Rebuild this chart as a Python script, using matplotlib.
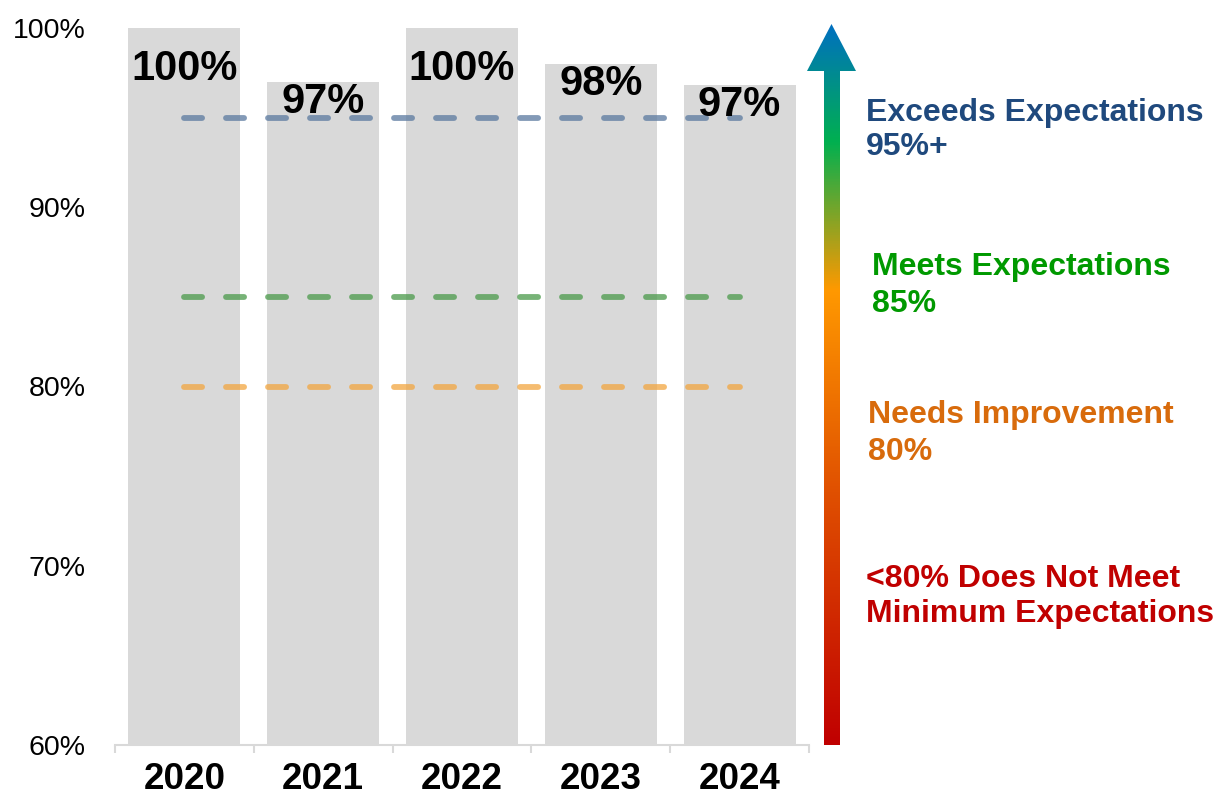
import numpy as np
import matplotlib
matplotlib.use("Agg")
import matplotlib.pyplot as plt
from matplotlib.colors import LinearSegmentedColormap
from matplotlib.patches import Polygon

# yearly scores (percent)
years = ["2020", "2021", "2022", "2023", "2024"]
scores = [100, 97, 100, 98, 96.8]

# target thresholds drawn as dashed lines
target_levels = [95, 85, 80]
target_colors = ["#5a799f", "#4a9a4a", "#f2a640"]

# rating bands shown next to the arrow
band_titles = ["Exceeds Expectations", "Meets Expectations",
               "Needs Improvement", "<80% Does Not Meet"]
band_subtitles = ["95%+", "85%", "80%", "Minimum Expectations"]
band_colors = ["#1f497d", "#009900", "#d86b0c", "#c00000"]

y_ticks = [60, 70, 80, 90, 100]

plt.rcParams["font.family"] = ["Liberation Sans", "DejaVu Sans"]

W, H = 1219, 796
fig = plt.figure(figsize=(W / 100, H / 100), dpi=100)
ax = fig.add_axes([115 / W, 51 / H, 694 / W, 717 / H])

x = np.arange(len(years))
ax.bar(x, scores, width=0.806, color="#d9d9d9", zorder=1)
ax.set_xlim(-0.5, len(years) - 0.5)
ax.set_ylim(60, 100)

for lvl, col in zip(target_levels, target_colors):
    ax.plot([x[0], x[-1]], [lvl, lvl], color=col, alpha=0.75, lw=4.2,
            dashes=(3.1, 4.1), dash_capstyle="round", zorder=2)

# value labels sit just inside the top of each bar
for xi, v in zip(x, scores):
    ax.text(xi, min(v, 98.85), f"{v:.0f}%", ha="center", va="top",
            fontsize=30, fontweight="bold", color="black", zorder=3)

ax.set_yticks(y_ticks, [f"{t}%" for t in y_ticks])
ax.tick_params(axis="y", length=0, labelsize=20.5, pad=21)

ax.set_xticks(x, years)
ax.tick_params(axis="x", which="major", length=0, pad=12)
for lab in ax.get_xticklabels():
    lab.set_fontweight("bold")
    lab.set_fontsize(26.5)
ax.set_xticks(np.arange(-0.5, len(years), 1), minor=True)
ax.tick_params(axis="x", which="minor", length=6, width=1.5,
               color="#d9d9d9", direction="out")

for side in ("left", "top", "right"):
    ax.spines[side].set_visible(False)
ax.spines["bottom"].set_color("#d9d9d9")
ax.spines["bottom"].set_linewidth(1.5)

# overlay in pixel units for the gradient arrow and band notes
ov = fig.add_axes([0, 0, 1, 1])
ov.set_xlim(0, W)
ov.set_ylim(H, 0)
ov.axis("off")

arrow = Polygon([(824, 745), (824, 71), (807, 71), (831.5, 24),
                 (856, 71), (840, 71), (840, 745)],
                closed=True, facecolor="none", edgecolor="none")
ov.add_patch(arrow)
cmap = LinearSegmentedColormap.from_list(
    "rating", [(0.0, "#c00000"), (0.35, "#e05000"), (0.632, "#ff9900"),
               (0.838, "#00b050"), (1.0, "#0070c0")])
grad = np.linspace(0, 1, 512).reshape(-1, 1)
img = ov.imshow(grad, extent=(800, 860, 745, 24), origin="lower",
                cmap=cmap, aspect="auto", interpolation="bilinear")
img.set_clip_path(arrow)

band_pos = [(866, 121, 155), (872, 275, 312), (868, 423, 460), (866, 587, 622)]
for (tx, y1, y2), t1, t2, col in zip(band_pos, band_titles, band_subtitles,
                                     band_colors):
    ov.text(tx, y1, t1, va="baseline", ha="left", fontsize=23,
            fontweight="bold", color=col)
    ov.text(tx, y2, t2, va="baseline", ha="left", fontsize=23,
            fontweight="bold", color=col)

fig.savefig("out.png", dpi=100)
